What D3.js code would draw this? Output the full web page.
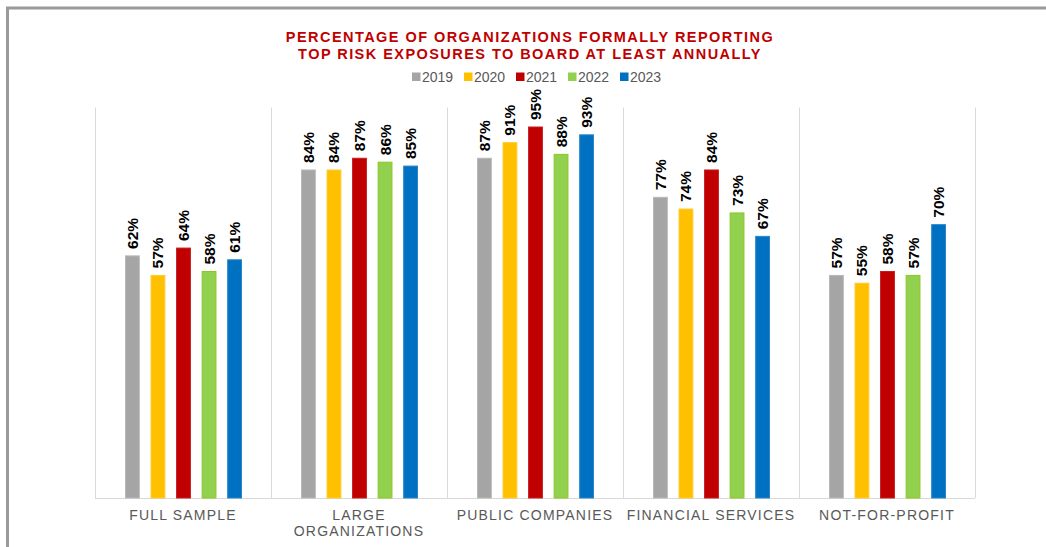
<!DOCTYPE html>
<html>
<head>
<meta charset="utf-8">
<script src="https://cdn.jsdelivr.net/npm/d3@7"></script>
<style>
  body { margin: 0; background: #fff; }
  svg { font-family: Arial, "Liberation Sans", sans-serif; }
</style>
</head>
<body>
<svg id="chart" width="1046" height="547"></svg>
<script>
const categories = ["FULL SAMPLE", "LARGE ORGANIZATIONS", "PUBLIC COMPANIES", "FINANCIAL SERVICES", "NOT-FOR-PROFIT"];
const years = ["2019", "2020", "2021", "2022", "2023"];
const v2019 = [62, 84, 87, 77, 57];
const v2020 = [57, 84, 91, 74, 55];
const v2021 = [64, 87, 95, 84, 58];
const v2022 = [58, 86, 88, 73, 57];
const v2023 = [61, 85, 93, 67, 70];
const series = [v2019, v2020, v2021, v2022, v2023];
const colors = ["#A5A5A5", "#FFC000", "#C00000", "#92D050", "#0070C0"];
const strokes = ["#B8B8B8", "#FFCA33", "#C81A1A", "#8CC820", "#2A86C8"];

const svg = d3.select("#chart");
const margin = { left: 95, right: 71, top: 107.5, bottom: 49 };
const W = 1046, H = 547;

// frame
svg.append("path")
  .attr("d", `M7.5,${H} L7.5,8 L${W},8`)
  .attr("fill", "none").attr("stroke", "#9a9a9a").attr("stroke-width", 3);

const x0 = d3.scaleBand().domain(categories).range([margin.left, W - margin.right]);
const x1 = d3.scaleBand().domain(years).range([30, 147]).paddingInner(0.42);
const y = d3.scaleLinear().domain([0, 100]).range([H - margin.bottom, margin.top]);

// separators
const g = svg.append("g");
const edges = categories.map(c => x0(c)).concat([x0.range()[1]]);
g.selectAll("line.sep").data(edges).join("line")
  .attr("x1", d => d + 0.5).attr("x2", d => d + 0.5)
  .attr("y1", y(100)).attr("y2", y(0))
  .attr("stroke", "#d9d9d9");
g.append("line")
  .attr("x1", x0.range()[0]).attr("x2", x0.range()[1])
  .attr("y1", y(0) + 0.5).attr("y2", y(0) + 0.5)
  .attr("stroke", "#d9d9d9");

// bars
categories.forEach((c, ci) => {
  const grp = svg.append("g").attr("transform", `translate(${x0(c)},0)`);
  years.forEach((yr, si) => {
    const v = series[si][ci];
    grp.append("rect")
      .attr("x", x1(yr) + 0.5).attr("width", x1.bandwidth() - 1)
      .attr("y", y(v)).attr("height", y(0) - y(v))
      .attr("fill", colors[si]).attr("stroke", strokes[si]).attr("stroke-width", 1);
    const cx = x1(yr) + x1.bandwidth() / 2;
    grp.append("text")
      .attr("transform", `translate(${cx + 5.5},${y(v) - 7}) rotate(-90)`)
      .attr("font-size", 15.5).attr("font-weight", "bold").attr("fill", "#000")
      .text(v + "%");
  });
});

// category labels
const labelLines = { "LARGE ORGANIZATIONS": ["LARGE", "ORGANIZATIONS"] };
categories.forEach(c => {
  const lines = labelLines[c] || [c];
  const t = svg.append("text")
    .attr("x", x0(c) + x0.bandwidth() / 2).attr("y", 520)
    .attr("text-anchor", "middle").attr("font-size", 14)
    .attr("letter-spacing", 1.2).attr("fill", "#595959");
  lines.forEach((l, i) => t.append("tspan")
    .attr("x", x0(c) + x0.bandwidth() / 2).attr("dy", i ? 16 : 0).text(l));
});

// title
const title = ["PERCENTAGE OF ORGANIZATIONS FORMALLY REPORTING", "TOP RISK EXPOSURES TO BOARD AT LEAST ANNUALLY"];
title.forEach((l, i) => svg.append("text")
  .attr("x", 530).attr("y", 42 + i * 17)
  .attr("text-anchor", "middle").attr("font-size", 14.5).attr("font-weight", "bold")
  .attr("letter-spacing", 1.45).attr("fill", "#C00000").text(l));

// legend
const legend = svg.append("g");
const itemW = 52;
const lx0 = 412;
years.forEach((yr, i) => {
  const it = legend.append("g").attr("transform", `translate(${lx0 + i * itemW},82)`);
  it.append("rect").attr("x", 0).attr("y", -9.5).attr("width", 8.5).attr("height", 8.5).attr("fill", colors[i]);
  it.append("text").attr("x", 10).attr("y", 0).attr("font-size", 14).attr("fill", "#595959").text(yr);
});
</script>
</body>
</html>
